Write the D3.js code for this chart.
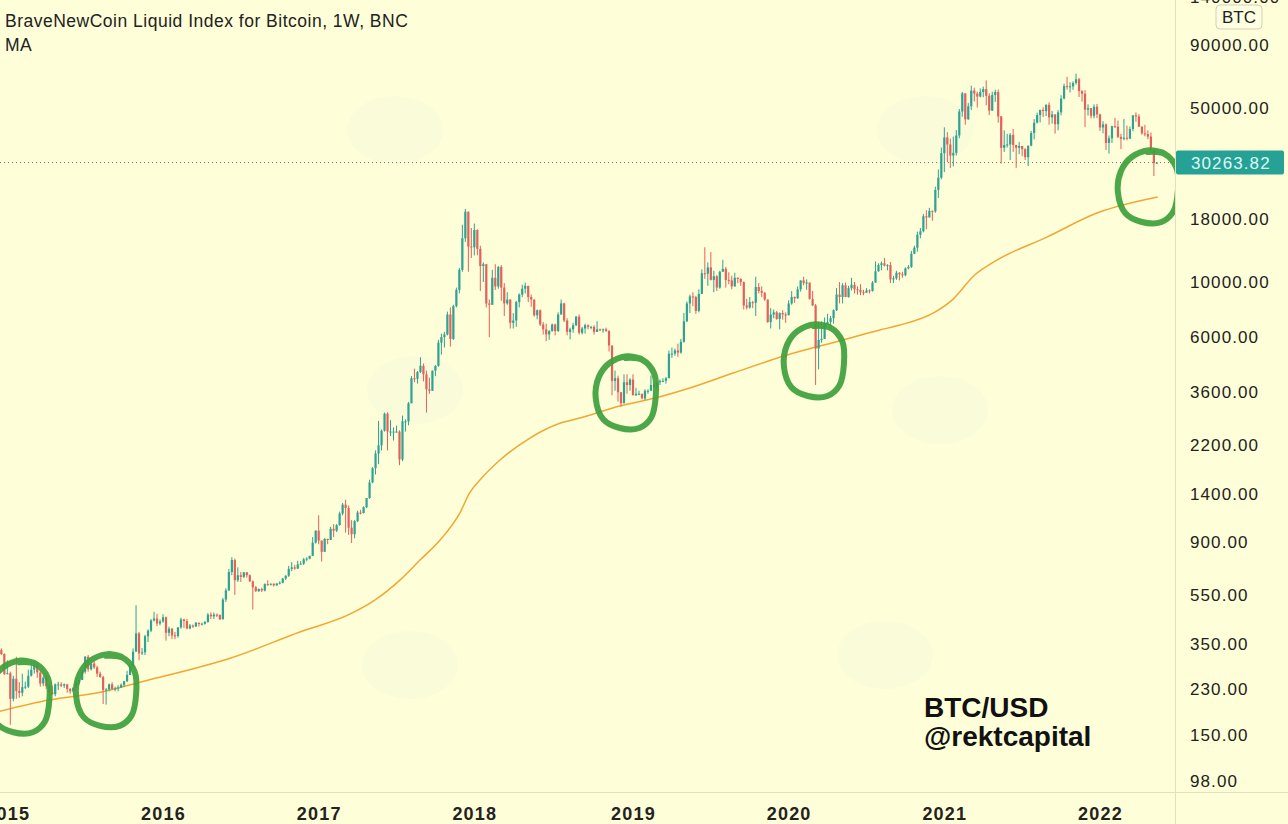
<!DOCTYPE html>
<html>
<head>
<meta charset="utf-8">
<script src="https://cdn.jsdelivr.net/npm/d3@7"></script>
<style>
  html, body { margin: 0; padding: 0; background: #fefed8; overflow: hidden; }
  svg { display: block; }
</style>
</head>
<body>
<script>
// ------------------------------------------------------------
// Weekly candles, each row = [high, low, close]; open = previous close
// every segment starts on the Monday given in segStarts
// ------------------------------------------------------------
const firstOpen = 352;

const w2014 = [[360,310,330],[335,315,318]];

const w2015 = [
  [320,262,264],[300,265,266],[270,165,210],[260,205,253],[310,210,226],[245,212,222],
  [265,215,234],[246,230,235],[275,232,260],[298,258,275],[298,265,285],[295,255,268],
  [275,235,242],[260,236,255],[262,230,236],[238,215,223],[237,218,219],[242,215,240],
  [246,228,240],[245,234,237],[242,232,240],[241,222,230],[232,220,225],[233,222,233],
  [255,232,244],[250,240,250],[275,250,270],[312,265,310],[315,270,276],[296,273,291],
  [298,277,281],[285,257,265],[270,255,257],[260,200,228],[232,199,229],[242,225,240],
  [245,228,230],[235,225,231],[238,225,233],[242,232,239],[248,235,247],[272,245,262],
  [290,262,285],[335,283,325],[500,325,385],[390,300,320],[336,315,323],[380,315,375],
  [400,355,395],[440,390,434],[470,430,442],[462,412,422],[438,415,430]
];

const w2016 = [
  [460,425,447],[450,360,387],[410,375,402],[405,365,378],[390,365,376],[408,370,407],
  [445,402,438],[441,405,432],[440,400,403],[420,400,414],[418,405,410],[428,410,425],
  [425,410,420],[425,415,421],[432,418,428],[465,425,458],[468,440,451],[467,440,458],
  [463,448,457],[458,436,439],[535,438,527],[585,515,574],[700,570,680],[780,660,760],
  [770,550,630],[710,620,660],[680,620,650],[680,643,678],[680,645,660],[665,620,624],
  [628,480,590],[597,565,570],[584,565,581],[588,565,573],[612,568,608],[630,598,605],
  [612,600,610],[612,594,601],[612,598,612],[624,606,616],[644,612,640],[660,632,657],
  [720,650,700],[745,685,710],[727,695,702],[755,700,730],[752,728,735],[775,725,765],
  [780,752,770],[790,765,790],[940,790,893],[1000,885,998]
];

const w2017 = [
  [1150,880,910],[910,750,820],[930,820,925],[925,880,915],[1035,915,1015],[1060,940,998],
  [1060,985,1050],[1190,1045,1170],[1290,1150,1270],[1330,980,1230],[1260,960,1025],[1100,890,965],
  [1100,930,1090],[1200,1080,1180],[1210,1160,1175],[1250,1170,1240],[1350,1230,1350],[1600,1340,1560],
  [1800,1550,1780],[2100,1680,2040],[2760,1850,2200],[2550,2100,2520],[2980,2500,2950],[2990,2100,2500],
  [2780,2400,2500],[2600,2300,2500],[2640,2480,2500],[2530,1830,1930],[2900,1900,2750],[2800,2500,2750],
  [3290,2650,3250],[4180,3250,4100],[4480,3950,4080],[4380,3900,4340],[4980,4300,4600],[4700,3980,4250],
  [4400,2980,3700],[4120,3550,3650],[4400,3650,4400],[4620,4180,4600],[5850,4560,5700],[6200,5100,6000],
  [6300,5450,6150],[7600,6100,7400],[7900,5500,5900],[8100,5850,8000],[9500,7900,9300],[11400,9000,11200],
  [17000,11000,15000],[19700,14500,19200],[19200,11000,13900],[16500,12500,13800]
];

const w2018 = [
  [17200,12800,16200],[16300,12800,13600],[14000,9200,11600],[12000,10000,11800],[11800,7900,8200],
  [8500,6000,8100],[11200,8100,10400],[11800,9300,9600],[11600,9400,11500],[11700,8400,9500],
  [9900,7300,8200],[9100,8100,8500],[8500,6500,6850],[7500,6500,7000],[8400,6600,8300],
  [9000,7900,8900],[9750,8700,9400],[9950,9000,9650],[9650,8300,8700],[8900,7950,8500],
  [8500,7250,7350],[7750,7080,7700],[7750,6650,6750],[6900,6150,6450],[6800,5780,6150],
  [6400,5850,6350],[6800,6300,6750],[6800,6100,6350],[7550,6300,7400],[8500,7400,8200],
  [8250,6900,7000],[7150,6100,6300],[6550,5880,6450],[6850,6250,6700],[7300,6650,7250],
  [7400,6150,6250],[6600,6150,6500],[6800,6200,6700],[6750,6450,6600],[6650,6450,6600],
  [6700,6150,6300],[6950,6300,6450],[6500,6350,6400],[6500,6250,6450],[6550,6300,6350],
  [6400,5250,5550],[5550,3500,4000],[4400,3650,4100],[4200,3300,3600],[3600,3150,3250],
  [4250,3250,3950],[4250,3550,3850]
];

const w2019 = [
  [4100,3650,4050],[4250,3500,3500],[3750,3480,3550],[3650,3500,3550],[3550,3370,3400],
  [3700,3350,3650],[3700,3550,3650],[4200,3650,3850],[3900,3750,3800],[3950,3700,3950],
  [4050,3850,4000],[4100,3950,4000],[4150,3900,4100],[5300,4100,5150],[5450,4950,5150],
  [5400,5050,5300],[5650,5000,5200],[5900,5150,5750],[7500,5700,6950],[8350,6900,8200],
  [8900,7500,8750],[9100,8000,8700],[8800,7450,7650],[9350,7550,8950],[11250,8950,10850],
  [13800,10300,10800],[12000,9650,11450],[13200,10150,10200],[11100,9100,10550],[10650,9200,9500],
  [11100,9400,11000],[12300,11000,11300],[11500,9500,10200],[10950,9800,10150],[10600,9350,9600],
  [10900,9600,10400],[10450,9900,10300],[10350,9650,10000],[10050,7750,8050],[8550,7750,7900],
  [8700,7800,8300],[8400,7850,8250],[10500,7300,9550],[9900,9000,9200],[9600,8700,9050],
  [9100,8400,8500],[8500,6850,6900],[7850,6500,7400],[7750,7150,7550],[7650,7050,7100],
  [7550,6450,7500],[7700,7050,7400]
];

const w2020 = [
  [7550,6850,7350],[8450,7350,8200],[9200,8100,8700],[8750,8250,8600],[9600,8550,9350],
  [10150,9150,10150],[10500,9700,9900],[10250,9300,9950],[9950,8500,8550],[9200,8000,8050],
  [8150,3850,5400],[6900,4450,5850],[6950,5700,5900],[7200,5900,6800],[7450,6750,6900],
  [7300,6500,7150],[7750,6800,7700],[9450,7650,8900],[10000,8200,8700],[9900,8200,9700],
  [9950,8700,8700],[9650,8650,9450],[10400,9250,9750],[10000,9000,9350],[9600,8900,9300],
  [9800,8850,9100],[9300,8850,9050],[9450,9050,9250],[9350,9000,9200],[10100,9150,9950],
  [12100,9950,11050],[11900,11000,11700],[12100,11150,11900],[12500,11550,11650],[11800,11150,11700],
  [12050,9900,10250],[10600,9900,10350],[11100,10200,10900],[10950,10150,10750],[11000,10400,10650],
  [11450,10550,11350],[11700,11250,11500],[13350,11400,13000],[14000,12950,13750],[15950,13250,15500],
  [16500,15000,16000],[18800,15850,18400],[19450,16300,18200],[19900,18200,19350],[19400,17650,19250],
  [24200,19000,23500],[28400,21800,26300],[34800,25900,33000]
];

const w2021 = [
  [41950,27700,38200],[40100,30400,35800],[37800,28800,32300],[38500,29200,33100],[40900,32300,38900],
  [49700,37900,48600],[58300,46300,57500],[57500,43000,45200],[52600,45000,51000],[61700,49300,59000],
  [60600,53300,57400],[58400,50400,55800],[60200,55400,58200],[61200,55500,59800],[64800,51500,56200],
  [57500,47000,49000],[58400,48800,56600],[59500,53100,58200],[59600,43800,46400],[46600,30000,34700],
  [40800,33400,35600],[39500,34800,35800],[39800,31000,39100],[41300,33400,35600],[35700,28800,34700],
  [36600,32700,35300],[35300,32100,34250],[34600,31000,31800],[35400,29300,35400],[40600,35200,39800],
  [45300,37500,43800],[48100,43500,47000],[49400,43900,49300],[50500,46200,48800],[51900,46600,51700],
  [52900,43000,46000],[48800,43400,47300],[47300,39600,43200],[49200,40800,48200],[56500,46900,54800],
  [62900,54400,61500],[67000,59500,60900],[63700,58000,61300],[64300,59400,63300],[69000,62300,65500],
  [66300,55600,58700],[59200,53300,57300],[59200,42000,49400],[51900,46800,50100],[50100,45500,46700],
  [51900,45600,50800],[52100,45700,47300]
];

const w2022 = [
  [47600,40600,41900],[44400,39700,43100],[43500,34000,36300],[38900,32900,37900],[42600,36300,42400],
  [45800,41700,42200],[44700,38000,38400],[39500,34300,37700],[45300,37200,38100],[42600,37200,37800],
  [42300,37600,41300],[46900,40500,46900],[48200,44200,46400],[47400,42100,42200],[42400,39200,39700],
  [42900,38600,39400],[40800,37600,38500],[40000,33700,34100],[34200,26700,30100],[30400,29950,30263.82]
];

const segStarts = ["2014-12-15","2014-12-29","2016-01-04","2017-01-02","2018-01-01",
                   "2018-12-31","2019-12-30","2021-01-04","2022-01-03"];
const segments = [w2014, w2015, w2016, w2017, w2018, w2019, w2020, w2021, w2022];

// 200 week moving average
const maDates = ["2014-12-18","2015-04-15","2015-08-10","2015-11-11","2016-03-30","2016-06-09",
  "2016-11-19","2017-03-16","2017-05-14","2017-07-11","2017-08-27","2017-10-13","2017-11-28",
  "2017-12-22","2018-01-14","2018-03-02","2018-05-11","2018-07-20","2018-09-05","2018-12-07",
  "2019-02-27","2019-05-27","2019-08-29","2020-01-02","2020-05-12","2020-08-06","2020-09-22",
  "2020-12-13","2021-01-22","2021-03-16","2021-05-07","2021-09-01","2021-12-27","2022-05-18"];
const maValues = [187,208,223,245,282,306,390,460,525,631,760,915,1175,1425,1595,1920,2355,
  2700,2833,3170,3410,3780,4300,5080,5840,6410,6710,7570,8460,10670,12250,15170,18950,21980];

const lastPrice = 30263.82;
const priceTicks = [140000, 90000, 50000, 18000, 10000, 6000, 3600, 2200, 1400, 900, 550, 350, 230, 150, 98];
const yearTicks = ["2015-01-05","2016-01-04","2017-01-02","2018-01-01","2019-01-07",
                   "2020-01-06","2021-01-04","2022-01-03"];

// hand drawn green rings: centre date and price
const ringDates = ["2015-02-02","2015-08-24","2018-12-21","2020-03-05","2022-04-25"];
const ringPrices = [213, 226, 3575, 4810, 24130];

// ------------------------------------------------------------
const W = 1288, H = 824;
const plotRight = 1175, axisTop = 792;
const upColor = "#2fa294", downColor = "#e4605c";
const parse = d3.utcParse("%Y-%m-%d");

const svg = d3.select("body").append("svg")
  .attr("width", W).attr("height", H);

svg.append("rect").attr("width", W).attr("height", H).attr("fill", "#fefed8");

// scales calibrated on the axis labels
const x = d3.scaleUtc()
  .domain([parse("2016-01-04"), parse("2022-01-03")])
  .range([163, 1100]);
const y = d3.scaleLog()
  .domain([98, 90000])
  .range([781, 45]);

svg.append("clipPath").attr("id", "plot")
  .append("rect").attr("x", 0).attr("y", 0).attr("width", plotRight).attr("height", axisTop);

const plot = svg.append("g").attr("clip-path", "url(#plot)");

// very faint watermark blobs
const blobs = [[395,130],[925,130],[415,390],[940,410],[410,665],[885,655]];
plot.selectAll("ellipse.wm").data(blobs).enter().append("ellipse")
  .attr("class", "wm")
  .attr("cx", d => d[0]).attr("cy", d => d[1])
  .attr("rx", 48).attr("ry", 34)
  .attr("fill", "#f3f8dc").attr("opacity", 0.3);

// build candles
const candles = [];
let prev = firstOpen;
segStarts.forEach((s, k) => {
  const t0 = parse(s);
  segments[k].forEach((r, i) => {
    candles.push({ date: d3.utcDay.offset(t0, 7 * i), open: prev, high: r[0], low: r[1], close: r[2] });
    prev = r[2];
  });
});

// moving average
const maData = maDates.map((d, i) => ({ date: parse(d), value: maValues[i] }));
plot.append("path")
  .datum(maData)
  .attr("fill", "none")
  .attr("stroke", "#f0a733")
  .attr("stroke-width", 1.5)
  .attr("d", d3.line().x(d => x(d.date)).y(d => y(d.value)).curve(d3.curveMonotoneX));

// current price dotted line
plot.append("line")
  .attr("x1", 0).attr("x2", plotRight)
  .attr("y1", y(lastPrice)).attr("y2", y(lastPrice))
  .attr("stroke", "#707070").attr("stroke-width", 1)
  .attr("stroke-dasharray", "1,3");

// candles
const candle = plot.append("g").selectAll("g").data(candles).enter().append("g")
  .attr("fill", d => d.close >= d.open ? upColor : downColor)
  .attr("stroke", d => d.close >= d.open ? upColor : downColor);

candle.append("line")
  .attr("x1", d => x(d.date)).attr("x2", d => x(d.date))
  .attr("y1", d => y(Math.max(d.high, d.open, d.close)))
  .attr("y2", d => y(Math.min(d.low, d.open, d.close)))
  .attr("stroke-width", 1);

candle.append("rect")
  .attr("stroke", "none")
  .attr("x", d => x(d.date) - 1.1)
  .attr("width", 2.2)
  .attr("y", d => y(Math.max(d.open, d.close)))
  .attr("height", d => Math.max(1, Math.abs(y(d.open) - y(d.close))));

// green rings
const ringShape = [[0,-1],[0.55,-0.95],[0.95,-0.55],[1.0,0.1],[0.85,0.7],[0.45,1.0],
                   [-0.2,1.0],[-0.75,0.75],[-1.0,0.15],[-0.9,-0.45],[-0.55,-0.85],[0.05,-1.05],[0.5,-0.98]];
const ringLine = d3.line().curve(d3.curveCatmullRom);
plot.selectAll("path.ring").data(ringDates).enter().append("path")
  .attr("class", "ring")
  .attr("fill", "none")
  .attr("stroke", "#3d9f3c")
  .attr("stroke-width", 6)
  .attr("stroke-linecap", "round")
  .attr("stroke-linejoin", "round")
  .attr("opacity", 0.92)
  .attr("d", (d, i) => {
    const cx = x(parse(d)), cy = y(ringPrices[i]);
    return ringLine(ringShape.map(p => [cx + p[0] * 30, cy + p[1] * 35]));
  });

// separators
svg.append("line").attr("x1", plotRight + 0.5).attr("x2", plotRight + 0.5)
  .attr("y1", 0).attr("y2", H).attr("stroke", "#e3dfc0");
svg.append("line").attr("x1", 0).attr("x2", W)
  .attr("y1", axisTop + 0.5).attr("y2", axisTop + 0.5).attr("stroke", "#e3dfc0");

// price axis
const yAxis = svg.append("g")
  .attr("transform", `translate(${plotRight},0)`)
  .call(d3.axisRight(y).tickValues(priceTicks).tickFormat(d3.format(".2f")).tickSize(0).tickPadding(15));
yAxis.select(".domain").remove();
yAxis.selectAll("text")
  .attr("font-family", "Liberation Sans, Arial, sans-serif")
  .attr("font-size", 17)
  .attr("letter-spacing", 1.1)
  .attr("fill", "#222");

// time axis
const xAxis = svg.append("g")
  .attr("transform", `translate(0,${axisTop})`)
  .call(d3.axisBottom(x).tickValues(yearTicks.map(parse)).tickFormat(d3.utcFormat("%Y")).tickSize(0).tickPadding(15));
xAxis.select(".domain").remove();
xAxis.selectAll("text")
  .attr("font-family", "Liberation Sans, Arial, sans-serif")
  .attr("font-size", 18)
  .attr("font-weight", "bold")
  .attr("letter-spacing", 1.2)
  .attr("fill", "#222");

// last price label
const lp = svg.append("g").attr("transform", `translate(${plotRight + 1},${y(lastPrice)})`);
lp.append("rect").attr("x", 0).attr("y", -12).attr("width", 108).attr("height", 24)
  .attr("rx", 2).attr("fill", "#25a295");
lp.append("text").attr("x", 15).attr("y", 0).attr("dy", "0.35em")
  .attr("font-family", "Liberation Sans, Arial, sans-serif").attr("font-size", 17)
  .attr("letter-spacing", 1.1).attr("fill", "#dff8f3")
  .text(d3.format(".2f")(lastPrice));

// currency badge
const badge = svg.append("g").attr("transform", "translate(1216,5)");
badge.append("rect").attr("width", 46).attr("height", 24).attr("rx", 4)
  .attr("fill", "#fefee0").attr("stroke", "#d2d0bc");
badge.append("text").attr("x", 23).attr("y", 12).attr("dy", "0.35em")
  .attr("text-anchor", "middle")
  .attr("font-family", "Liberation Sans, Arial, sans-serif").attr("font-size", 17)
  .attr("fill", "#222").text("BTC");

// titles
const title = svg.append("g")
  .attr("font-family", "Liberation Sans, Arial, sans-serif")
  .attr("font-size", 17.5).attr("letter-spacing", 0.5).attr("fill", "#222");
title.append("text").attr("x", 5).attr("y", 27).text("BraveNewCoin Liquid Index for Bitcoin, 1W, BNC");
title.append("text").attr("x", 5).attr("y", 51).text("MA");

// signature
const sig = svg.append("g")
  .attr("font-family", "Liberation Sans, Arial, sans-serif")
  .attr("font-size", 28).attr("font-weight", "bold").attr("fill", "#111");
sig.append("text").attr("x", 924).attr("y", 717).text("BTC/USD");
sig.append("text").attr("x", 924).attr("y", 746).text("@rektcapital");
</script>
</body>
</html>
